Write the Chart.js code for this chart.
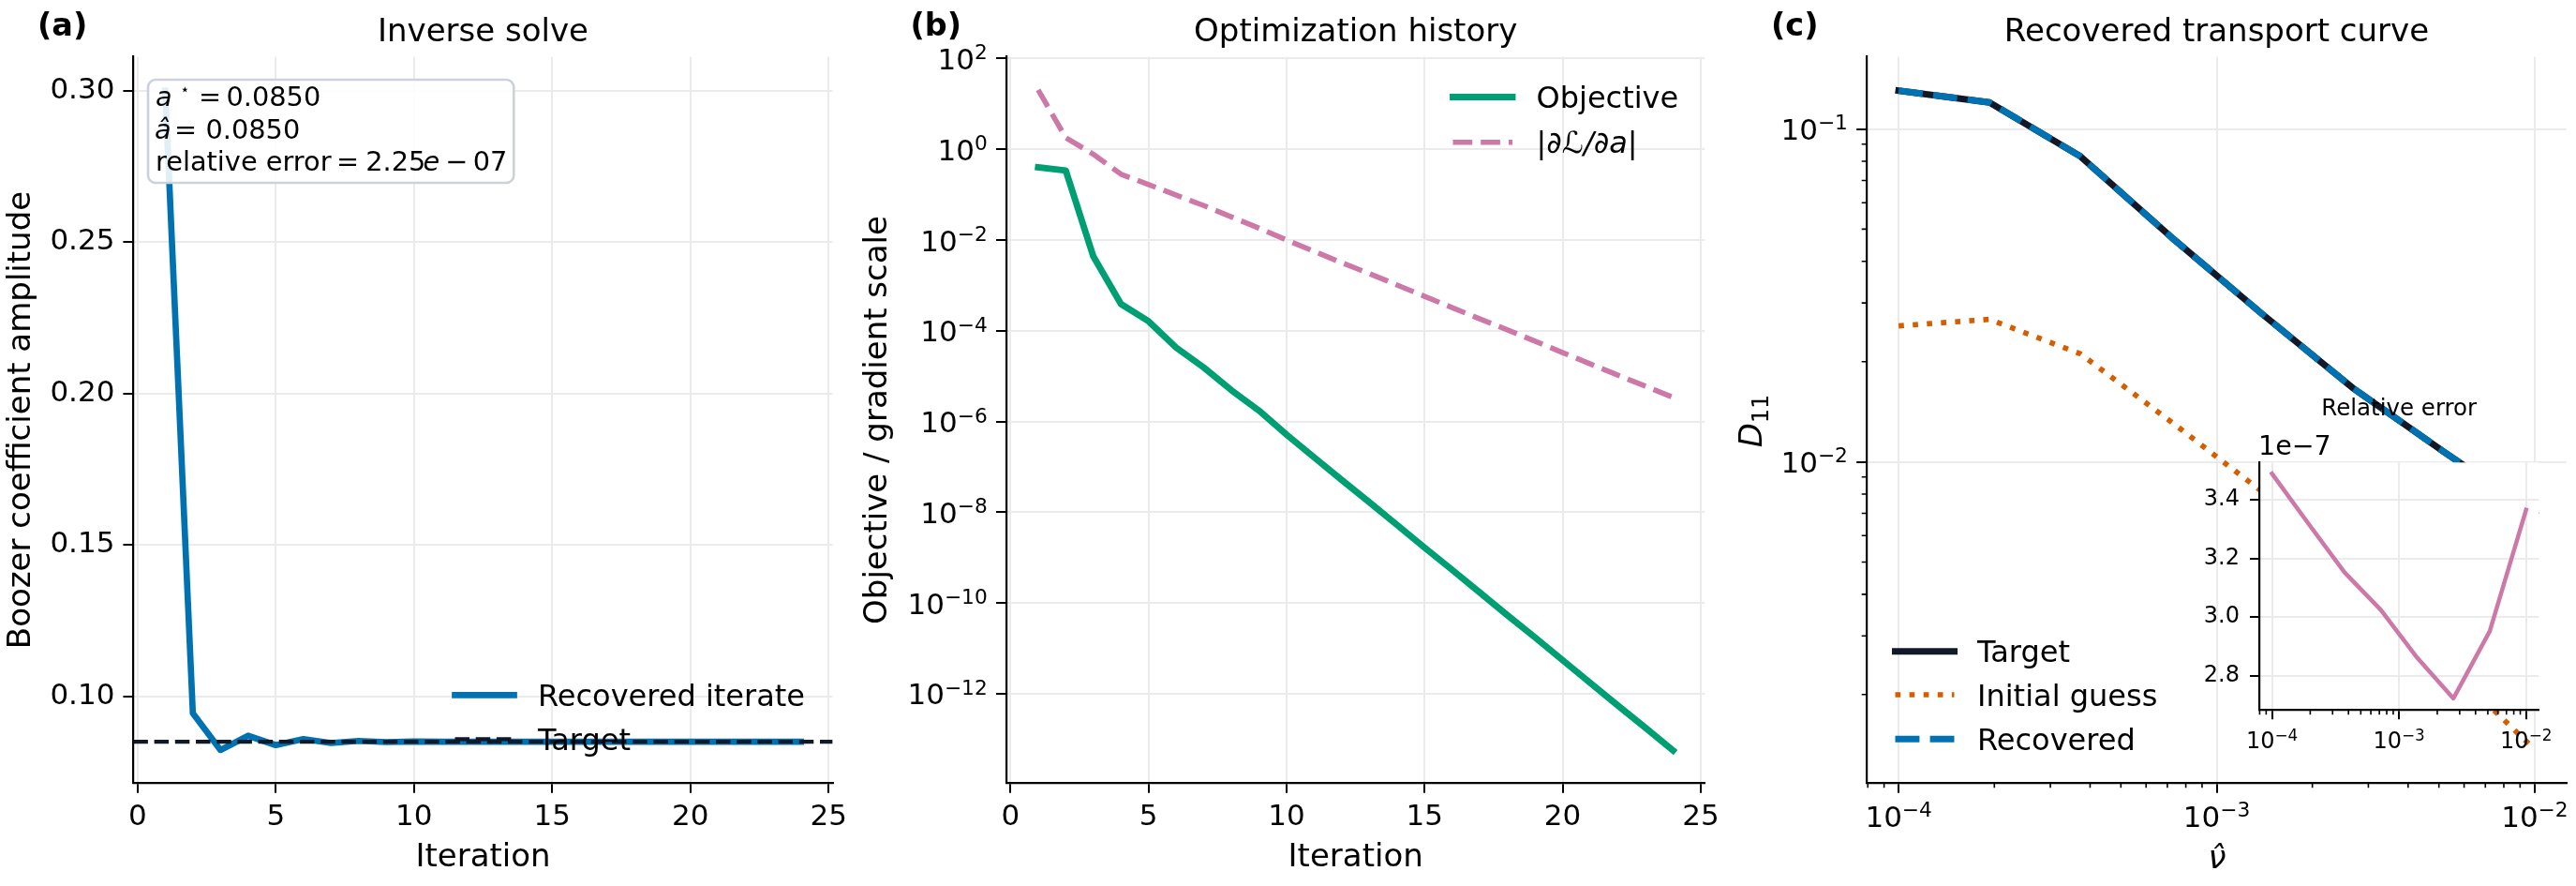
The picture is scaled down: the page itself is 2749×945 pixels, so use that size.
<!DOCTYPE html>
<html><head><meta charset="utf-8">
<script src="https://cdn.jsdelivr.net/npm/chart.js@4.4.0/dist/chart.umd.min.js"></script>
<style>
html,body{margin:0;padding:0;background:#fff;}
#wrap{position:relative;width:2749px;height:945px;overflow:hidden;background:#fff;}
#wrap canvas{position:absolute;left:0;top:0;}
</style></head><body>
<div id="wrap">
<canvas id="cA" width="2749" height="945"></canvas>
<canvas id="cB" width="2749" height="945"></canvas>
<canvas id="cC" width="2749" height="945"></canvas>
<canvas id="cI" width="2749" height="945"></canvas>
</div>
<script>
// ---------------- data ----------------
const iterations = [1,2,3,4,5,6,7,8,9,10,11,12,13,14,15,16,17,18,19,20,21,22,23,24];
const boozerIterate = [0.300, 0.0944, 0.0823, 0.0870, 0.0839, 0.0859, 0.0846, 0.0853, 0.0849, 0.0851,
  0.0850, 0.0850, 0.0850, 0.0850, 0.0850, 0.0850, 0.0850, 0.0850, 0.0850, 0.0850, 0.0850, 0.0850, 0.0850, 0.0850];
const boozerTarget = 0.0850;
const objectiveHistory = [0.399, 0.340, 4.33e-3, 3.89e-4, 1.62e-4, 4.27e-5, 1.55e-5, 4.90e-6, 1.74e-6, 5.13e-7,
  1.62e-7, 5.13e-8, 1.66e-8, 5.25e-9, 1.66e-9, 5.37e-10, 1.70e-10, 5.37e-11, 1.74e-11, 5.50e-12,
  1.74e-12, 5.50e-13, 1.78e-13, 5.62e-14];
const gradientHistory = [20.4, 1.80, 0.776, 0.282, 0.167, 0.0977, 0.0575, 0.0324, 0.0182, 0.0100,
  5.62e-3, 3.16e-3, 1.82e-3, 1.02e-3, 5.75e-4, 3.24e-4, 1.82e-4, 1.05e-4, 5.89e-5, 3.31e-5,
  1.86e-5, 1.05e-5, 6.03e-6, 3.39e-6];
const nuHat = [1.00e-4, 1.93e-4, 3.73e-4, 7.20e-4, 1.39e-3, 2.68e-3, 5.18e-3, 1.00e-2];
const d11Target = [0.1304, 0.1202, 0.0827, 0.0473, 0.0278, 0.01667, 0.01072, 0.00698];
const d11Initial = [0.0256, 0.0268, 0.0211, 0.01318, 0.00813, 0.0049, 0.0025, 0.001368];
const d11Recovered = [0.1304, 0.1202, 0.0827, 0.0473, 0.0278, 0.01667, 0.01072, 0.00698];
const relativeError = [3.49e-7, 3.32e-7, 3.152e-7, 3.024e-7, 2.861e-7, 2.722e-7, 2.952e-7, 3.366e-7];

// tick values
const ticksIterX = [0, 5, 10, 15, 20, 25];
const ticksBoozerY = [0.10, 0.15, 0.20, 0.25, 0.30];
const ticksHistoryY = [1e2, 1e0, 1e-2, 1e-4, 1e-6, 1e-8, 1e-10, 1e-12];
const ticksNuX = [1e-4, 1e-3, 1e-2];
const ticksD11Y = [1e-2, 1e-1];
const ticksErrY = [2.8e-7, 3.0e-7, 3.2e-7, 3.4e-7];
const minorNuX = [8e-5, 9e-5, 2e-4, 3e-4, 4e-4, 5e-4, 6e-4, 7e-4, 8e-4, 9e-4, 2e-3, 3e-3, 4e-3, 5e-3, 6e-3, 7e-3, 8e-3, 9e-3];
const minorD11Y = [2e-3, 3e-3, 4e-3, 5e-3, 6e-3, 7e-3, 8e-3, 9e-3, 2e-2, 3e-2, 4e-2, 5e-2, 6e-2, 7e-2, 8e-2, 9e-2];

// ---------------- style ----------------
const W = 2749, H = 945;
const FONT = '"DejaVu Sans", "Liberation Sans", sans-serif';
const fnt = (size, style, weight) => `${style || 'normal'} ${weight || 'normal'} ${size}px ${FONT}`;
const C_BLUE = '#0072B2', C_GREEN = '#009E73', C_PINK = '#CC79A7', C_ORANGE = '#D55E00', C_NAVY = '#111827';
const GRID = '#ebebeb';

const boxA = {l: 142.4, r: 888.6, t: 60.5, b: 834.8};
const boxB = {l: 1074.0, r: 1819.3, t: 60.5, b: 834.8};
const boxC = {l: 1992.2, r: 2738.8, t: 60.5, b: 834.8};
const boxI = {l: 2411.0, r: 2709.3, t: 493.3, b: 757.3};

function axis(o) {
  return {
    type: o.type, min: o.min, max: o.max, bounds: 'data',
    position: o.isX ? 'bottom' : 'left',
    afterBuildTicks: s => { s.ticks = o.ticks.map(v => ({value: v})); },
    afterFit: s => { if (o.isX) s.height = o.fit; else s.width = o.fit; },
    ticks: { display: o.fmt !== null, autoSkip: false, maxRotation: 0, minRotation: 0, color: '#000', padding: o.pad,
             font: {family: FONT, size: o.tickSize}, callback: o.fmt || (v => v) },
    grid: { color: GRID, lineWidth: 2, tickColor: '#000', tickWidth: 2, tickLength: o.tickLen, drawTicks: true },
    border: { display: true, color: '#000', width: 2.2 }
  };
}

function drawRuns(ctx, x, y, runs) {
  let cx = x;
  runs.forEach(r => {
    ctx.font = r.font;
    const px = (r.x !== undefined) ? r.x : cx;
    ctx.fillText(r.t, px, y + (r.dy || 0));
    cx = px + ctx.measureText(r.t).width;
  });
}
function runsWidth(ctx, runs) {
  let w = 0; runs.forEach(r => { ctx.font = r.font; w += ctx.measureText(r.t).width; }); return w;
}

function decoPlugin(id, items) {
  return { id, afterDraw(chart) {
    const ctx = chart.ctx;
    ctx.save(); ctx.fillStyle = '#000'; ctx.textBaseline = 'alphabetic'; ctx.textAlign = 'left';
    items.forEach(it => {
      const w = runsWidth(ctx, it.runs);
      ctx.save();
      ctx.translate(it.x, it.y);
      if (it.rot) ctx.rotate(-Math.PI / 2);
      const x0 = it.align === 'center' ? -w / 2 : (it.align === 'right' ? -w : 0);
      drawRuns(ctx, x0, 0, it.runs);
      ctx.restore();
    });
    ctx.restore();
  }};
}

// power-of-ten tick labels (10 with raised exponent) at the scale's own ticks
function powTickLabels(id, cfg) {
  return { id, afterDraw(chart) {
    const ctx = chart.ctx, a = chart.chartArea;
    ctx.save(); ctx.fillStyle = '#000'; ctx.textBaseline = 'alphabetic'; ctx.textAlign = 'left';
    Object.keys(cfg).forEach(key => {
      const sc = chart.scales[key], c = cfg[key];
      const es = c.size * 0.7;
      sc.ticks.forEach(t => {
        const e = Math.round(Math.log10(t.value));
        const base = '10', ex = String(e).replace('-', '\u2212');
        ctx.font = fnt(c.size); const wb = ctx.measureText(base).width;
        ctx.font = fnt(es); const we = ctx.measureText(ex).width;
        const w = wb + we;
        const p = sc.getPixelForValue(t.value);
        let x0, y0;
        if (key === 'x') { x0 = p - w / 2; y0 = a.bottom + c.off; }
        else { x0 = a.left - c.off - w; y0 = p + c.dy; }
        ctx.font = fnt(c.size); ctx.fillText(base, x0, y0);
        ctx.font = fnt(es); ctx.fillText(ex, x0 + wb, y0 - c.size * 0.34);
      });
    });
    ctx.restore();
  }};
}

function legendPlugin(id, entries, hx1, hx2, tx, size) {
  return { id, afterDraw(chart) {
    const ctx = chart.ctx;
    ctx.save();
    entries.forEach(e => {
      const ds = chart.data.datasets[e.ds];
      ctx.strokeStyle = ds.borderColor; ctx.lineWidth = ds.borderWidth;
      ctx.setLineDash(ds.borderDash || []);
      ctx.lineCap = ds.borderDash ? 'butt' : 'square';
      ctx.beginPath(); ctx.moveTo(hx1, e.y); ctx.lineTo(hx2, e.y); ctx.stroke();
      ctx.setLineDash([]);
      ctx.fillStyle = '#000'; ctx.textBaseline = 'alphabetic';
      const runs = e.runs || [{t: ds.label, font: fnt(size)}];
      drawRuns(ctx, tx, e.y + 0.729 * size / 2, runs);
    });
    ctx.restore();
  }};
}

function minorPlugin(id, xs, ys, len) {
  return { id, afterDraw(chart) {
    const ctx = chart.ctx, a = chart.chartArea, sx = chart.scales.x, sy = chart.scales.y;
    ctx.save(); ctx.strokeStyle = '#000'; ctx.lineWidth = 1.6; ctx.beginPath();
    xs.forEach(v => { if (v < sx.min || v > sx.max) return; const p = sx.getPixelForValue(v); ctx.moveTo(p, a.bottom); ctx.lineTo(p, a.bottom + len); });
    ys.forEach(v => { if (v < sy.min || v > sy.max) return; const p = sy.getPixelForValue(v); ctx.moveTo(a.left, p); ctx.lineTo(a.left - len, p); });
    ctx.stroke(); ctx.restore();
  }};
}

function makeChart(id, datasets, scales, box, yw, xh, plugins) {
  return new Chart(document.getElementById(id), {
    type: 'line',
    data: { datasets },
    options: {
      responsive: false, animation: false, devicePixelRatio: 1, events: [],
      layout: { padding: { left: box.l - yw, right: W - box.r, top: box.t, bottom: H - box.b - xh } },
      plugins: { legend: {display: false}, tooltip: {enabled: false}, title: {display: false} },
      elements: { point: { radius: 0 }, line: { tension: 0, borderJoinStyle: 'round' } },
      scales
    },
    plugins
  });
}
const pts = (xs, ys) => xs.map((x, i) => ({x, y: ys[i]}));

// ---------------- panel (a) ----------------
const xA = {min: -0.15, max: 25.15};
const annotA = { id: 'annotA', afterDatasetsDraw(chart) {
  const ctx = chart.ctx; ctx.save();
  ctx.beginPath(); ctx.roundRect(158, 85, 390.3, 110, 8);
  ctx.fillStyle = 'rgba(255,255,255,0.88)'; ctx.fill();
  ctx.strokeStyle = '#cdd2da'; ctx.lineWidth = 2.6; ctx.stroke();
  ctx.fillStyle = '#000'; ctx.textBaseline = 'alphabetic';
  const s = 28.8;
  drawRuns(ctx, 0, 113.3, [{t: 'a', font: fnt(s, 'italic'), x: 166}, {t: '\u22C6', font: fnt(17), x: 192, dy: -12},
    {t: '=', font: fnt(s), x: 212}, {t: '0.0850', font: fnt(s), x: 241.5}]);
  drawRuns(ctx, 0, 148.3, [{t: '\u00E2', font: fnt(s, 'italic'), x: 165}, {t: '=', font: fnt(s), x: 186},
    {t: '0.0850', font: fnt(s), x: 219.5}]);
  drawRuns(ctx, 0, 181.7, [{t: 'relative error', font: fnt(s), x: 166}, {t: '=', font: fnt(s), x: 359},
    {t: '2.25', font: fnt(s), x: 390.3}, {t: 'e', font: fnt(s, 'italic'), x: 451.5}, {t: '\u2212', font: fnt(s), x: 475.3},
    {t: '07', font: fnt(s), x: 504.8}]);
  ctx.restore();
}};
makeChart('cA', [
  {label: 'Target', data: [{x: xA.min, y: boozerTarget}, {x: xA.max, y: boozerTarget}], borderColor: C_NAVY,
   borderWidth: 4.2, borderDash: [15.5, 6.7], order: 0},
  {label: 'Recovered iterate', data: pts(iterations, boozerIterate), borderColor: C_BLUE, borderWidth: 6.7,
   borderCapStyle: 'square', order: 1}
], {
  x: axis({type: 'linear', isX: true, min: xA.min, max: xA.max, ticks: ticksIterX, fit: 60, pad: 8, tickLen: 11, tickSize: 31, fmt: v => String(v)}),
  y: axis({type: 'linear', min: 0.0715, max: 0.3112, ticks: ticksBoozerY, fit: 120, pad: 9, tickLen: 11, tickSize: 31, fmt: v => v.toFixed(2)})
}, boxA, 120, 60, [
  annotA,
  legendPlugin('legA', [{ds: 1, y: 741.4}, {ds: 0, y: 788.4}], 485.5, 548.5, 574, 32),
  decoPlugin('decoA', [
    {runs: [{t: '(a)', font: fnt(33.5, 'normal', 'bold')}], x: 40, y: 38},
    {runs: [{t: 'Inverse solve', font: fnt(34)}], x: 515.5, y: 44, align: 'center'},
    {runs: [{t: 'Iteration', font: fnt(34)}], x: 515.5, y: 924, align: 'center'},
    {runs: [{t: 'Boozer coefficient amplitude', font: fnt(34)}], x: 32, y: 448, align: 'center', rot: true}
  ])
]);

// ---------------- panel (b) ----------------
makeChart('cB', [
  {label: 'Objective', data: pts(iterations, objectiveHistory), borderColor: C_GREEN, borderWidth: 6.9, borderCapStyle: 'square'},
  {label: '|\u2202\u2112/\u2202a|', data: pts(iterations, gradientHistory), borderColor: C_PINK, borderWidth: 5.6, borderDash: [20.7, 9.0]}
], {
  x: axis({type: 'linear', isX: true, min: -0.15, max: 25.15, ticks: ticksIterX, fit: 60, pad: 8, tickLen: 11, tickSize: 31, fmt: v => String(v)}),
  y: axis({type: 'logarithmic', min: Math.pow(10, -13.96), max: Math.pow(10, 2.04), ticks: ticksHistoryY, fit: 120, pad: 9, tickLen: 11, tickSize: 31, fmt: null})
}, boxB, 120, 60, [
  powTickLabels('powB', {y: {size: 31, off: 20.3, dy: 11.5}}),
  legendPlugin('legB', [{ds: 0, y: 103.5},
    {ds: 1, y: 151.7, runs: [{t: '|', font: fnt(32)}, {t: '\u2202\u2112/\u2202a', font: fnt(32, 'italic')}, {t: '|', font: fnt(32)}]}],
    1550.5, 1614, 1639.5, 32),
  decoPlugin('decoB', [
    {runs: [{t: '(b)', font: fnt(33.5, 'normal', 'bold')}], x: 971.5, y: 38},
    {runs: [{t: 'Optimization history', font: fnt(34)}], x: 1446.7, y: 44, align: 'center'},
    {runs: [{t: 'Iteration', font: fnt(34)}], x: 1446.7, y: 924, align: 'center'},
    {runs: [{t: 'Objective / gradient scale', font: fnt(34)}], x: 946, y: 448, align: 'center', rot: true}
  ])
]);

// ---------------- panel (c) ----------------
const xNu = {min: Math.pow(10, -4.1), max: Math.pow(10, -1.9)};
makeChart('cC', [
  {label: 'Target', data: pts(nuHat, d11Target), borderColor: C_NAVY, borderWidth: 7, borderCapStyle: 'square', order: 2},
  {label: 'Initial guess', data: pts(nuHat, d11Initial), borderColor: C_ORANGE, borderWidth: 5.7, borderDash: [5.7, 9.4], order: 1},
  {label: 'Recovered', data: pts(nuHat, d11Recovered), borderColor: C_BLUE, borderWidth: 7, borderDash: [25.9, 11.2], order: 0}
], {
  x: axis({type: 'logarithmic', isX: true, min: xNu.min, max: xNu.max, ticks: ticksNuX, fit: 60, pad: 8, tickLen: 11, tickSize: 31, fmt: null}),
  y: axis({type: 'logarithmic', min: Math.pow(10, -2.964), max: Math.pow(10, -0.783), ticks: ticksD11Y, fit: 120, pad: 9, tickLen: 11, tickSize: 31, fmt: null})
}, boxC, 120, 60, [
  minorPlugin('minC', minorNuX, minorD11Y, 5.5),
  powTickLabels('powC', {x: {size: 31, off: 46.9}, y: {size: 31, off: 20.3, dy: 11.0}}),
  legendPlugin('legC', [{ds: 0, y: 694.7}, {ds: 1, y: 741}, {ds: 2, y: 788.3}], 2022.5, 2085.5, 2110, 32),
  decoPlugin('decoC', [
    {runs: [{t: '(c)', font: fnt(33.5, 'normal', 'bold')}], x: 1890, y: 38},
    {runs: [{t: 'Recovered transport curve', font: fnt(34)}], x: 2365.5, y: 44, align: 'center'},
    {runs: [{t: '\u03BD\u0302', font: fnt(34, 'italic')}], x: 2366, y: 926, align: 'center'},
    {runs: [{t: 'D', font: fnt(34, 'italic')}, {t: '11', font: fnt(24), dy: 7}], x: 1880, y: 449, align: 'center', rot: true}
  ])
]);

// ---------------- inset ----------------
const insetBg = { id: 'insetBg', beforeDraw(chart) {
  const a = chart.chartArea, ctx = chart.ctx;
  ctx.save(); ctx.fillStyle = '#fff'; ctx.fillRect(a.left, a.top, a.right - a.left, a.bottom - a.top); ctx.restore();
}};
makeChart('cI', [
  {label: 'Relative error', data: pts(nuHat, relativeError), borderColor: C_PINK, borderWidth: 4.5, borderCapStyle: 'square'}
], {
  x: axis({type: 'logarithmic', isX: true, min: xNu.min, max: xNu.max, ticks: ticksNuX, fit: 50, pad: 7, tickLen: 10, tickSize: 24, fmt: null}),
  y: axis({type: 'linear', min: 2.6824e-7, max: 3.528e-7, ticks: ticksErrY, fit: 80, pad: 11, tickLen: 10, tickSize: 24, fmt: v => (v / 1e-7).toFixed(1)})
}, boxI, 80, 50, [
  insetBg,
  minorPlugin('minI', minorNuX, [], 5),
  powTickLabels('powI', {x: {size: 24, off: 41}}),
  decoPlugin('decoI', [
    {runs: [{t: 'Relative error', font: fnt(24.5)}], x: 2560.2, y: 443.3, align: 'center'},
    {runs: [{t: '1e\u22127', font: fnt(28.5)}], x: 2410, y: 485}
  ])
]);
</script>
</body></html>
